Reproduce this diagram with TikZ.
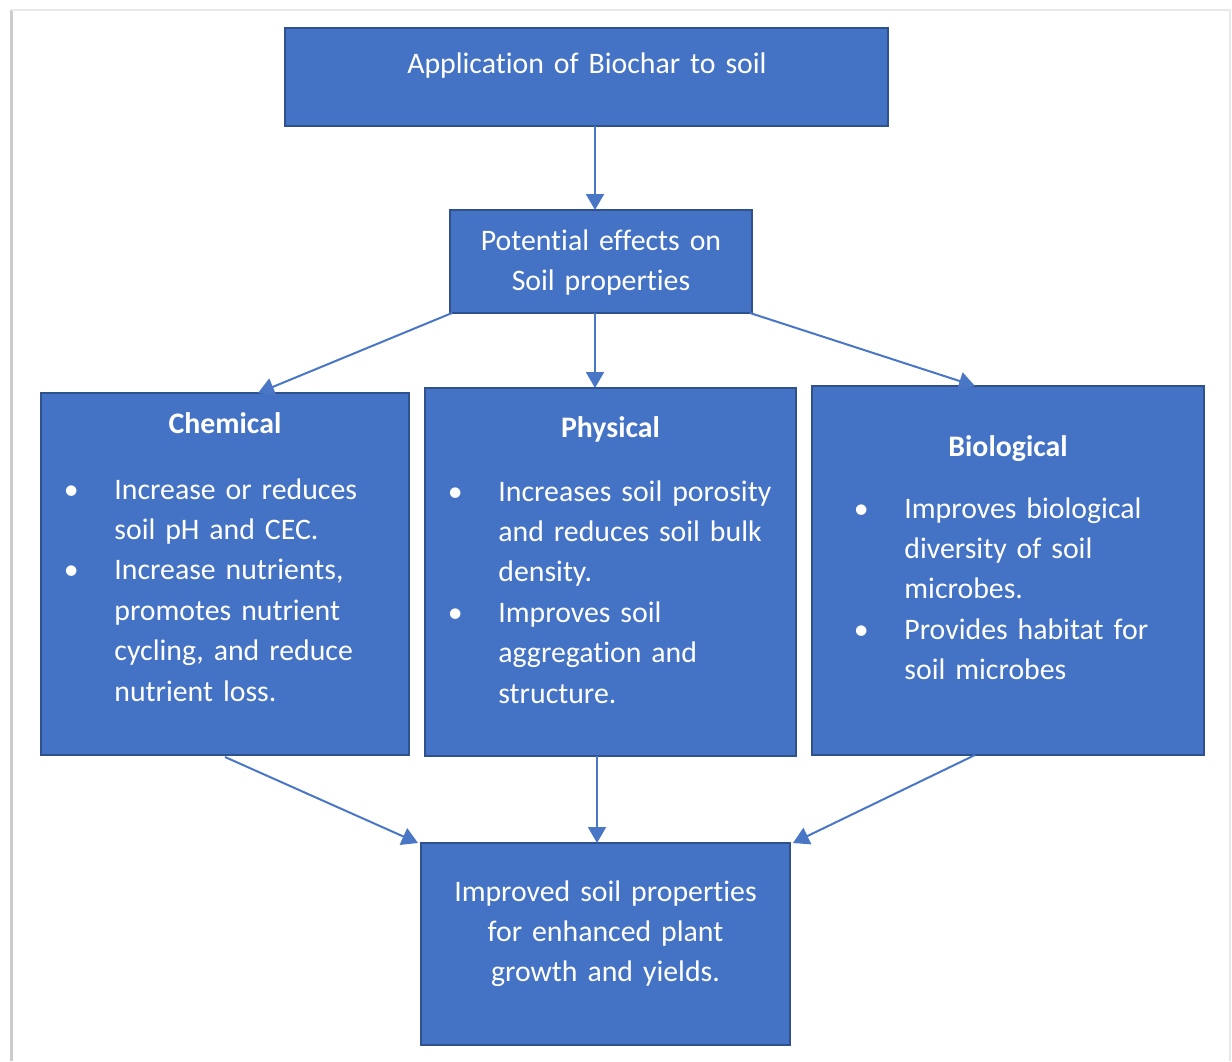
\documentclass[tikz,border=0pt]{standalone}
\usepackage{fontspec}
\setmainfont{Carlito}[Ligatures=NoCommon]
\usetikzlibrary{positioning, arrows.meta}
\definecolor{boxblue}{HTML}{4472C4}
\definecolor{boxline}{HTML}{2F528F}
\definecolor{flowblue}{HTML}{4A76C6}
\newcommand{\bul}{\leavevmode\llap{\makebox[10pt]{\textbullet}\hspace{16.5pt}}}

\begin{document}
\begin{tikzpicture}[x=0.5pt, y=-0.5pt,
  box/.style={draw=boxline, line width=1pt, fill=boxblue, inner sep=0pt, outer sep=0pt},
  txt/.style={text=white, inner sep=0pt, font=\fontsize{14.9}{20.2}\selectfont},
  head/.style={txt, font=\fontsize{14.9}{20.2}\selectfont\bfseries},
  flow/.style={draw=flowblue, line width=1pt, -{Triangle[width=9pt,length=8pt]}}]

\useasboundingbox (0,0) rectangle (1232,1061);
% page edge
\draw[gray!40, line width=1.5pt] (11,1061) -- (11,10);
\draw[gray!18, line width=1pt] (11,10) -- (1230,10) -- (1230,1061);

% boxes
\node[box, minimum width=301.5pt, minimum height=49pt] (apply) at (586.5,77) {};
\node[box, minimum width=151pt, minimum height=51.5pt] (pot) at (601,261.5) {};
\node[box, minimum width=184pt, minimum height=181pt] (chem) at (225,574) {};
\node[box, minimum width=185.5pt, minimum height=184pt] (phys) at (610.5,572) {};
\node[box, minimum width=196pt, minimum height=184.5pt] (bio) at (1008,570.5) {};
\node[box, minimum width=184.5pt, minimum height=101pt] (out) at (605.5,944) {};

% texts
\node[txt, anchor=base, text width=290pt, align=center] (applytxt) at (587,73) {Application of Biochar to soil};
\node[txt, anchor=base, text width=145pt, align=center] (pottxt) at (601,250) {Potential effects on\\Soil properties};

\node[head, anchor=base] (chemhead) at (225,433) {Chemical};
\node[txt, anchor=base west, text width=150pt, align=left] (chemtxt) at (114,499)
  {\bul Increase or reduces\\ soil pH and CEC.\\ \bul Increase nutrients,\\ promotes nutrient\\ cycling, and reduce\\ nutrient loss.};

\node[head, anchor=base] (physhead) at (610.5,437) {Physical};
\node[txt, anchor=base west, text width=150pt, align=left] (phystxt) at (498,501)
  {\bul Increases soil porosity\\ and reduces soil bulk\\ density.\\ \bul Improves soil\\ aggregation and\\ structure.};

\node[head, anchor=base] (biohead) at (1008,456) {Biological};
\node[txt, anchor=base west, text width=150pt, align=left] (biotxt) at (904,518)
  {\bul Improves biological\\ diversity of soil\\ microbes.\\ \bul Provides habitat for\\ soil microbes};

\node[txt, anchor=base, text width=175pt, align=center] (outtxt) at (605.5,901)
  {Improved soil properties\\for enhanced plant\\growth and yields.};

% arrows
\draw[flow] ([xshift=4.25pt]apply.south) -- ([xshift=-3pt]pot.north);
\draw[flow] ([xshift=1pt]pot.south west) -- ([xshift=16.5pt]chem.north);
\draw[flow] ([xshift=-3pt]pot.south) -- ([xshift=-7.75pt]phys.north);
\draw[flow] ([xshift=-1pt]pot.south east) -- ([xshift=-16.5pt]bio.north);
\draw[flow] ([yshift=-1pt]chem.south) -- ([xshift=-1.5pt]out.north west);
\draw[flow] ([xshift=-6.75pt]phys.south) -- ([xshift=-4.25pt]out.north);
\draw[flow] ([xshift=-16.5pt]bio.south) -- ([xshift=1.5pt]out.north east);
\end{tikzpicture}
\end{document}
